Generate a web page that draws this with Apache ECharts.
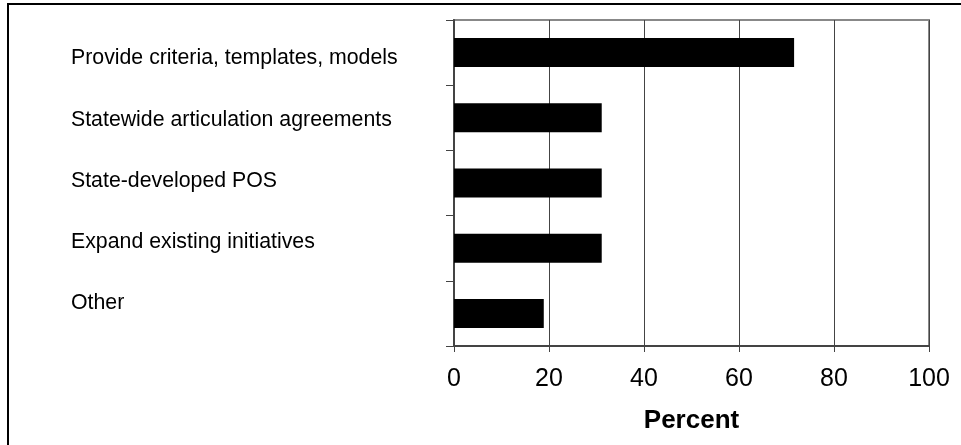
<!DOCTYPE html>
<html>
<head>
<meta charset="utf-8">
<style>
  html, body { margin: 0; padding: 0; background: #fff; }
  #chart { width: 961px; height: 445px; }
</style>
<script src="https://cdn.jsdelivr.net/npm/echarts@6/dist/echarts.min.js"></script>
</head>
<body>
<div id="chart"></div>
<script>
const categories = [
  'Provide criteria, templates, models',
  'Statewide articulation agreements',
  'State-developed POS',
  'Expand existing initiatives',
  'Other'
];
const values = [71.6, 31.1, 31.1, 31.1, 18.9];
const xTicks = { min: 0, max: 100, interval: 20 };
const axisTitle = 'Percent';

const chart = echarts.init(document.getElementById('chart'), null, { renderer: 'canvas' });
const FONT = '"Liberation Sans", Arial, sans-serif';

chart.setOption({
  animation: false,
  backgroundColor: '#fff',
  graphic: [{
    type: 'rect',
    shape: { x: 8, y: 4, width: 1000, height: 1000 },
    style: { fill: 'none', stroke: '#000', lineWidth: 2 },
    silent: true,
    z: 100
  }],
  grid: [
    { left: 454, top: 20, width: 475, height: 326, show: true, borderColor: '#888', borderWidth: 2, backgroundColor: 'transparent' },
    { left: 454, top: 27.8, width: 475, height: 306.2, show: false }
  ],
  xAxis: [
    {
      gridIndex: 0,
      type: 'value',
      min: xTicks.min, max: xTicks.max, interval: xTicks.interval,
      axisLine: { show: true, lineStyle: { color: '#444', width: 2 } },
      axisTick: { show: true, length: 6, lineStyle: { color: '#444', width: 1 } },
      splitLine: { show: true, lineStyle: { color: '#444', width: 1 } },
      axisLabel: { color: '#000', fontSize: 25, fontFamily: FONT, margin: 21 },
      name: axisTitle,
      nameLocation: 'middle',
      nameGap: 62,
      nameTextStyle: { color: '#000', fontSize: 26, fontWeight: 'bold', fontFamily: FONT }
    },
    {
      gridIndex: 1,
      type: 'value',
      show: false,
      min: 0, max: 100
    }
  ],
  yAxis: [
    {
      gridIndex: 0,
      type: 'category',
      data: categories,
      inverse: true,
      boundaryGap: true,
      axisLine: { show: true, lineStyle: { color: '#444', width: 2 } },
      axisTick: { show: true, length: 8, lineStyle: { color: '#444', width: 1 } },
      axisLabel: { show: false },
      splitLine: { show: false }
    },
    {
      gridIndex: 1,
      type: 'category',
      data: categories,
      inverse: true,
      axisLine: { show: false },
      axisTick: { show: false },
      splitLine: { show: false },
      axisLabel: {
        show: true,
        align: 'left',
        margin: 383,
        color: '#000',
        fontSize: 21.3,
        fontFamily: FONT
      }
    }
  ],
  series: [{
    type: 'bar',
    xAxisIndex: 0,
    yAxisIndex: 0,
    data: values,
    barWidth: 29,
    itemStyle: { color: '#000' },
    z: 3
  }]
});
</script>
</body>
</html>
